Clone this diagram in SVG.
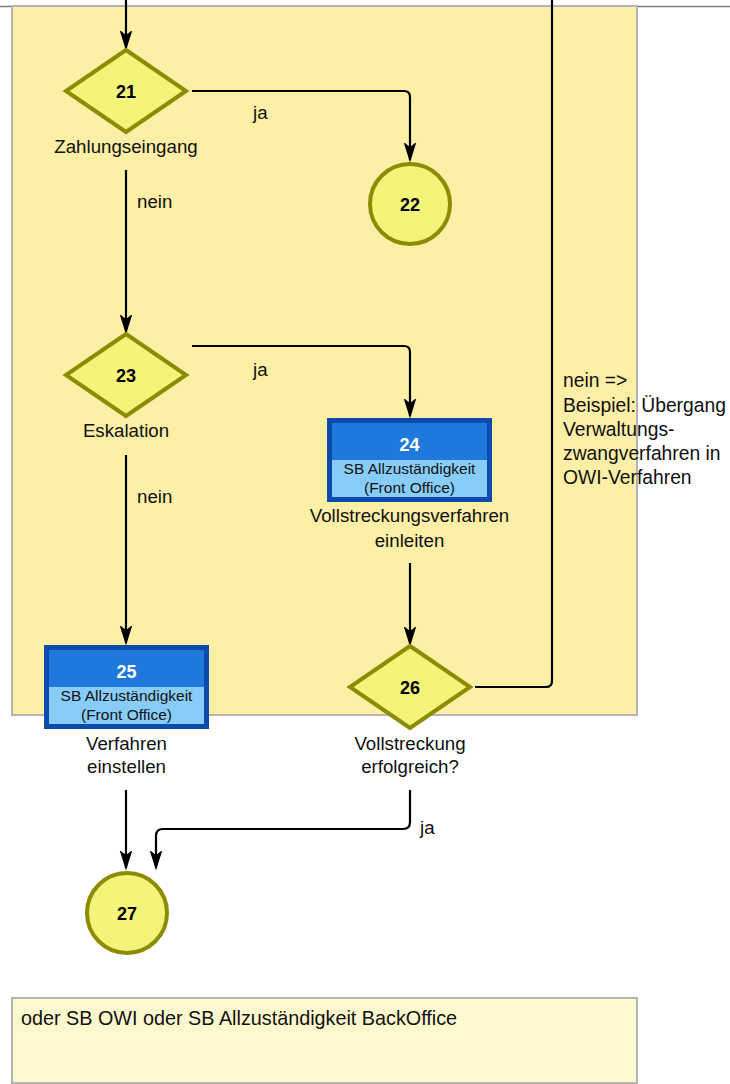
<svg xmlns="http://www.w3.org/2000/svg" width="730" height="1084" viewBox="0 0 730 1084">
  <style>
    .lane { fill: #fdefa6; stroke: #b4b4b4; stroke-width: 2; }
    .note { fill: #fef8cf; stroke: #b4b4b4; stroke-width: 2; }
    .dec { fill: #f4f47a; stroke: #8c8c00; stroke-width: 4; stroke-linejoin: miter; }
    .ev { fill: #f4f47a; stroke: #8c8c00; stroke-width: 4; }
    .frame { fill: #0b4bab; }
    .head { fill: #1f78dc; }
    .body { fill: #88cdfa; }
    .num { font-family: "Liberation Sans", Arial, sans-serif; font-weight: bold; font-size: 18px; text-anchor: middle; fill: #000; }
    .numw { font-family: "Liberation Sans", Arial, sans-serif; font-weight: bold; font-size: 18px; text-anchor: middle; fill: #fff; }
    .role { font-family: "Liberation Sans", Arial, sans-serif; font-size: 15.5px; text-anchor: middle; fill: #111; }
    .lbl { font-family: "Liberation Sans", Arial, sans-serif; font-size: 18.7px; text-anchor: middle; fill: #111; }
    .txt { font-family: "Liberation Sans", Arial, sans-serif; font-size: 18.7px; fill: #111; }
    .side { font-family: "Liberation Sans", Arial, sans-serif; font-size: 19.3px; fill: #111; }
    .memo { font-family: "Liberation Sans", Arial, sans-serif; font-size: 19.8px; fill: #111; }
    .conn { fill: none; stroke: #000; stroke-width: 2.2; stroke-linejoin: round; }
  </style>
  <defs>
    <marker id="arrow" markerUnits="userSpaceOnUse" markerWidth="20" markerHeight="14" viewBox="-17 -7 19 14" refX="0" refY="0" orient="auto">
      <path d="M-16,-5 L0,0 L-16,5 L-12,0 Z" fill="#000" stroke="#000" stroke-width="1.5" stroke-linejoin="miter"/>
    </marker>
  </defs>

  <!-- pool header line and lane -->
  <line x1="0" y1="6.5" x2="730" y2="6.5" stroke="#7a7a7a" stroke-width="1.5"/>
  <rect class="lane" x="12" y="6" width="625" height="709"/>

  <!-- annotation box -->
  <g id="note">
    <rect class="note" x="12" y="998" width="625" height="85"/>
    <text class="memo" x="21" y="1025">oder SB OWI oder SB Allzuständigkeit BackOffice</text>
  </g>

  <!-- connectors -->
  <g id="connectors">
    <path class="conn" d="M126,0 V48" marker-end="url(#arrow)"/>
    <path class="conn" d="M192,91 H404 Q410,91 410,97 V160" marker-end="url(#arrow)"/>
    <path class="conn" d="M126,170 V332" marker-end="url(#arrow)"/>
    <path class="conn" d="M192,346 H404 Q410,346 410,352 V416" marker-end="url(#arrow)"/>
    <path class="conn" d="M126,455 V643" marker-end="url(#arrow)"/>
    <path class="conn" d="M410,563 V644" marker-end="url(#arrow)"/>
    <path class="conn" d="M475,687 H546 Q552,687 552,681 V0"/>
    <path class="conn" d="M126,790 V868" marker-end="url(#arrow)"/>
    <path class="conn" d="M410,790 V822 Q410,829 403,829 H163 Q156,829 156,836 V868" marker-end="url(#arrow)"/>
    <text class="txt" x="253" y="119">ja</text>
    <text class="txt" x="137" y="208">nein</text>
    <text class="txt" x="253" y="376">ja</text>
    <text class="txt" x="137" y="503">nein</text>
    <text class="txt" x="420" y="834">ja</text>
    <text class="side" x="563" y="387">nein =&gt;</text>
    <text class="side" x="563" y="412">Beispiel: Übergang</text>
    <text class="side" x="563" y="436">Verwaltungs-</text>
    <text class="side" x="563" y="460">zwangverfahren in</text>
    <text class="side" x="563" y="484">OWI-Verfahren</text>
  </g>

  <!-- 21 decision -->
  <g id="n21">
    <polygon class="dec" points="126,50 186,91 126,132 66,91"/>
    <text class="num" x="126" y="98">21</text>
    <text class="lbl" x="126" y="153">Zahlungseingang</text>
  </g>

  <!-- 22 end event -->
  <g id="n22">
    <circle class="ev" cx="410" cy="204" r="40"/>
    <text class="num" x="410" y="211">22</text>
  </g>

  <!-- 23 decision -->
  <g id="n23">
    <polygon class="dec" points="126,334 186,375 126,416 66,375"/>
    <text class="num" x="126" y="382">23</text>
    <text class="lbl" x="126" y="437">Eskalation</text>
  </g>

  <!-- 24 activity -->
  <g id="n24">
    <rect class="frame" x="327" y="418" width="165" height="84"/>
    <rect class="head" x="332" y="423" width="155" height="37"/>
    <rect class="body" x="332" y="460" width="155" height="37"/>
    <text class="numw" x="409.5" y="451">24</text>
    <text class="role" x="409.5" y="474">SB Allzuständigkeit</text>
    <text class="role" x="409.5" y="493">(Front Office)</text>
    <text class="lbl" x="409.5" y="522">Vollstreckungsverfahren</text>
    <text class="lbl" x="409.5" y="547">einleiten</text>
  </g>

  <!-- 25 activity -->
  <g id="n25">
    <rect class="frame" x="44" y="645" width="165" height="84"/>
    <rect class="head" x="49" y="650" width="155" height="37"/>
    <rect class="body" x="49" y="687" width="155" height="37"/>
    <text class="numw" x="126.5" y="678">25</text>
    <text class="role" x="126.5" y="701">SB Allzuständigkeit</text>
    <text class="role" x="126.5" y="720">(Front Office)</text>
    <text class="lbl" x="126.5" y="750">Verfahren</text>
    <text class="lbl" x="126.5" y="773">einstellen</text>
  </g>

  <!-- 26 decision -->
  <g id="n26">
    <polygon class="dec" points="410,646 470,687 410,728 350,687"/>
    <text class="num" x="410" y="694">26</text>
    <text class="lbl" x="410" y="750">Vollstreckung</text>
    <text class="lbl" x="410" y="773">erfolgreich?</text>
  </g>

  <!-- 27 end event -->
  <g id="n27">
    <circle class="ev" cx="127" cy="913" r="40"/>
    <text class="num" x="127" y="920">27</text>
  </g>
</svg>
